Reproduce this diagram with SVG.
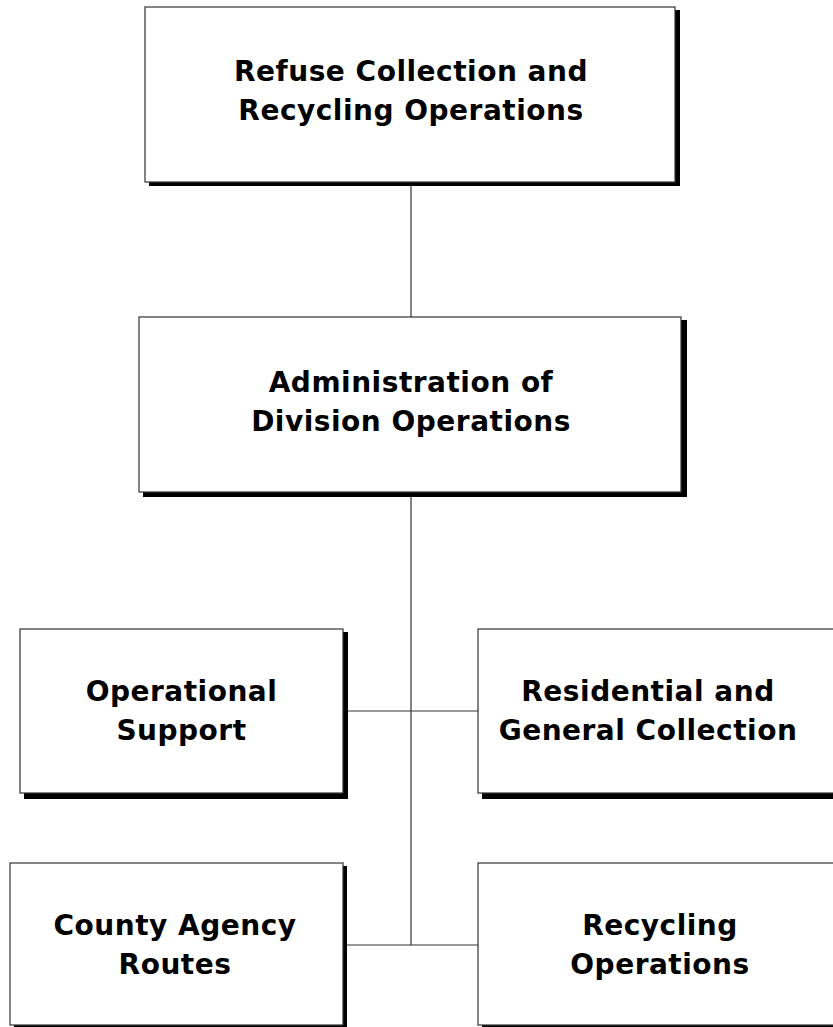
<svg xmlns="http://www.w3.org/2000/svg" width="833" height="1027" viewBox="0 0 833 1027">
<style>
.shadow{fill:#000}
.box{fill:#fff;stroke:#333;stroke-width:1.2}
.conn line{stroke:#333;stroke-width:1.2}
text{font-family:"DejaVu Sans","Liberation Sans",sans-serif;font-weight:bold;font-size:28px;fill:#000;text-anchor:middle;letter-spacing:0.5px}
</style>
<rect width="833" height="1027" fill="#fff"/>
<g class="conn" id="connectors">
<line x1="411" y1="182" x2="411" y2="317"/>
<line x1="411" y1="492" x2="411" y2="945"/>
<line x1="343" y1="711" x2="478" y2="711"/>
<line x1="343" y1="945" x2="478" y2="945"/>
</g>
<g id="node-refuse">
<rect class="shadow" x="149" y="10" width="531" height="176"/>
<rect class="box" x="145" y="7" width="530" height="175"/>
<text x="411" y="81">Refuse Collection and</text>
<text x="411" y="120">Recycling Operations</text>
</g>
<g id="node-admin">
<rect class="shadow" x="143" y="320" width="544" height="177"/>
<rect class="box" x="139" y="317" width="542" height="175"/>
<text x="411" y="392">Administration of</text>
<text x="411" y="431">Division Operations</text>
</g>
<g id="node-opsupport">
<rect class="shadow" x="24" y="632" width="324" height="167"/>
<rect class="box" x="20" y="629" width="323" height="164"/>
<text x="181.5" y="701">Operational</text>
<text x="181.5" y="740">Support</text>
</g>
<g id="node-residential">
<rect class="shadow" x="482" y="632" width="360" height="167"/>
<rect class="box" x="478" y="629" width="360" height="164"/>
<text x="648" y="701">Residential and</text>
<text x="648" y="740">General Collection</text>
</g>
<g id="node-county">
<rect class="shadow" x="14" y="866" width="333" height="170"/>
<rect class="box" x="10" y="863" width="333" height="162"/>
<text x="175" y="935">County Agency</text>
<text x="175" y="974">Routes</text>
</g>
<g id="node-recycling">
<rect class="shadow" x="482" y="866" width="360" height="170"/>
<rect class="box" x="478" y="863" width="360" height="162"/>
<text x="660" y="935">Recycling</text>
<text x="660" y="974">Operations</text>
</g>
</svg>
